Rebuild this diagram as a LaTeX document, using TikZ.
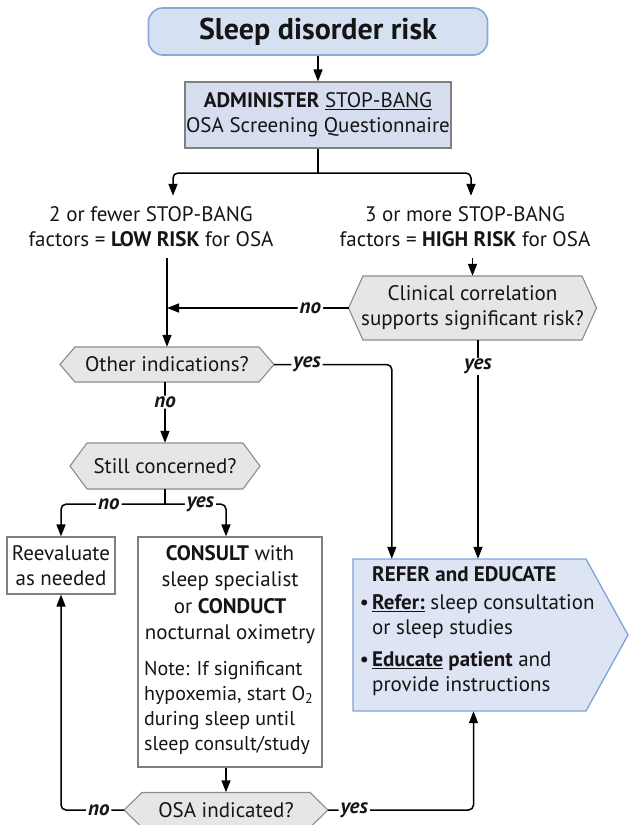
\documentclass[tikz,border=0pt]{standalone}
\usepackage{fontspec}
\setmainfont{PT Sans}
\usetikzlibrary{arrows.meta}
\definecolor{titlefill}{HTML}{D6E0F3}
\definecolor{titleborder}{HTML}{8AA8D8}
\definecolor{adminfill}{HTML}{D5DDEE}
\definecolor{boxborder}{HTML}{808080}
\definecolor{hexfill}{HTML}{E6E6E6}
\definecolor{hexborder}{HTML}{8C8C8C}
\definecolor{referfill}{HTML}{DDE4F4}
\definecolor{referborder}{HTML}{7FA2D8}
\definecolor{ink}{HTML}{151515}
\newcommand\hexnode[7]{%
  \draw[hex] ({#2-#4-#6},#3) -- ({#2-#4},{#3-#5}) -- ({#2+#4},{#3-#5}) -- ({#2+#4+#6},#3) -- ({#2+#4},{#3+#5}) -- ({#2-#4},{#3+#5}) -- cycle;
  \node[hextext, minimum width={2*#4}, minimum height={2*#5}] (#1) at (#2,#3) {#7};
  \coordinate (#1W) at ({#2-#4-#6},#3);
  \coordinate (#1E) at ({#2+#4+#6},#3);
}
\begin{document}
\begin{tikzpicture}[x=1pt,y=-1pt,
  font=\fontsize{21}{25}\selectfont, text=ink,
  hex/.style={draw=hexborder, fill=hexfill, line width=1.1pt},
  hextext/.style={inner sep=0pt, align=center},
  plainbox/.style={draw=boxborder, line width=1.1pt, inner sep=0pt, align=center},
  txt/.style={inner sep=0pt, align=center},
  ln/.style={line width=1.5pt, rounded corners=5pt, draw=black},
  arr/.style={ln, -{Triangle[length=12pt,width=9pt]}},
  lbl/.style={fill=white, inner xsep=2pt, inner ysep=1pt, font=\fontsize{21}{25}\selectfont\bfseries\itshape}
]
\useasboundingbox (0,0) rectangle (629,825);

% title and first box
\node[draw=titleborder, fill=titlefill, line width=1.6pt, rounded corners=14pt,
      minimum width=339, minimum height=47, inner sep=0pt,
      font=\fontsize{30}{34}\selectfont\bfseries] (title) at (318,31.5) {Sleep disorder risk};
\node[plainbox, fill=adminfill, minimum width=266, minimum height=66] (admin) at (318,115)
  {\textbf{ADMINISTER} \underline{STOP-BANG}\\OSA Screening Questionnaire};

% risk texts
\node[txt, minimum height=62] (low) at (151,227)
  {2 or fewer STOP-BANG\\factors = \textbf{LOW RISK} for OSA};
\node[txt, minimum height=62] (high) at (465,227)
  {3 or more STOP-BANG\\factors = \textbf{HIGH RISK} for OSA};

% decisions
\hexnode{clin}{472.5}{308}{109.5}{32}{14.5}{Clinical correlation\\supports significant risk?}
\hexnode{oth}{167}{364.5}{92}{17.5}{15}{Other indications?}
\hexnode{still}{165}{466}{78}{23}{17}{Still concerned?}
\hexnode{osa}{226}{810}{84}{17.5}{18}{OSA indicated?}

% boxes
\node[plainbox, fill=white, minimum width=108, minimum height=57] (reeval) at (61,565.5)
  {Reevaluate\\as needed};
\node[plainbox, fill=white, minimum width=184, minimum height=230] (consult) at (230,652) {};
\node[txt, anchor=north, font=\fontsize{21}{26.5}\selectfont] (consulttxt) at (230,545)
  {\textbf{CONSULT} with\\sleep specialist\\or \textbf{CONDUCT}\\nocturnal oximetry};
\node[inner sep=0pt, anchor=north west, align=left, font=\fontsize{20}{25}\selectfont] (note) at (144,661)
  {Note: If significant\\hypoxemia, start O\textsubscript{2}\\during sleep until\\sleep consult/study};

% refer
\draw[draw=referborder, fill=referfill, line width=1.3pt]
  (353,559) -- (586,559) -- (628,635) -- (586,711) -- (353,711) -- cycle;
\node[inner sep=0pt, minimum width=233, minimum height=152] (refer) at (469.5,635) {};
\node[inner sep=0pt, anchor=north west, align=left] (refertxt) at (372,566)
  {\textbf{REFER and EDUCATE}\\[3pt]
   \llap{\textbullet\hspace{3pt}}\textbf{\underline{Refer:}} sleep consultation\\
   or sleep studies\\[7pt]
   \llap{\textbullet\hspace{3pt}}\textbf{\underline{Educate} patient} and\\
   provide instructions};

% connectors
\coordinate (split) at (318,173);
\draw[arr] (title.south) -- (admin.north);
\draw[ln] (admin.south) -- (split);
\draw[arr] (split) -| ([xshift=22]low.north);
\draw[arr] (split) -| ([xshift=6]high.north);
\draw[arr] (low.south -| oth.north) -- (oth.north);
\draw[arr] (high.south -| clin.north) -- (clin.north);
\draw[arr] (clinW) -- node[lbl, pos=0.21]{no} (oth.north |- clinW);
\draw[arr] (othE) -| node[lbl, pos=0.14]{yes} ([xshift=39]refer.north west);
\draw[arr] ([xshift=5.5]clin.south) -- node[lbl, pos=0.12]{yes} ([xshift=5.5]clin.south |- refer.north);
\draw[arr] (oth.south -| still.north) -- node[lbl, pos=0.33]{no} (still.north);
\draw[ln] (still.south) -- ++(0,15) coordinate (sp2);
\draw[arr] (sp2) -| node[lbl, pos=0.27]{no} (reeval.north);
\draw[arr] (sp2) -| node[lbl, pos=0.29]{yes} ([xshift=-4]consult.north);
\draw[arr] (consult.south -| osa.north) -- (osa.north);
\draw[arr] (osaW) -| node[lbl, pos=0.2]{no} (reeval.south);
\draw[arr] (osaE) -| node[lbl, pos=0.09]{yes} ([xshift=4]refer.south);
\end{tikzpicture}
\end{document}
